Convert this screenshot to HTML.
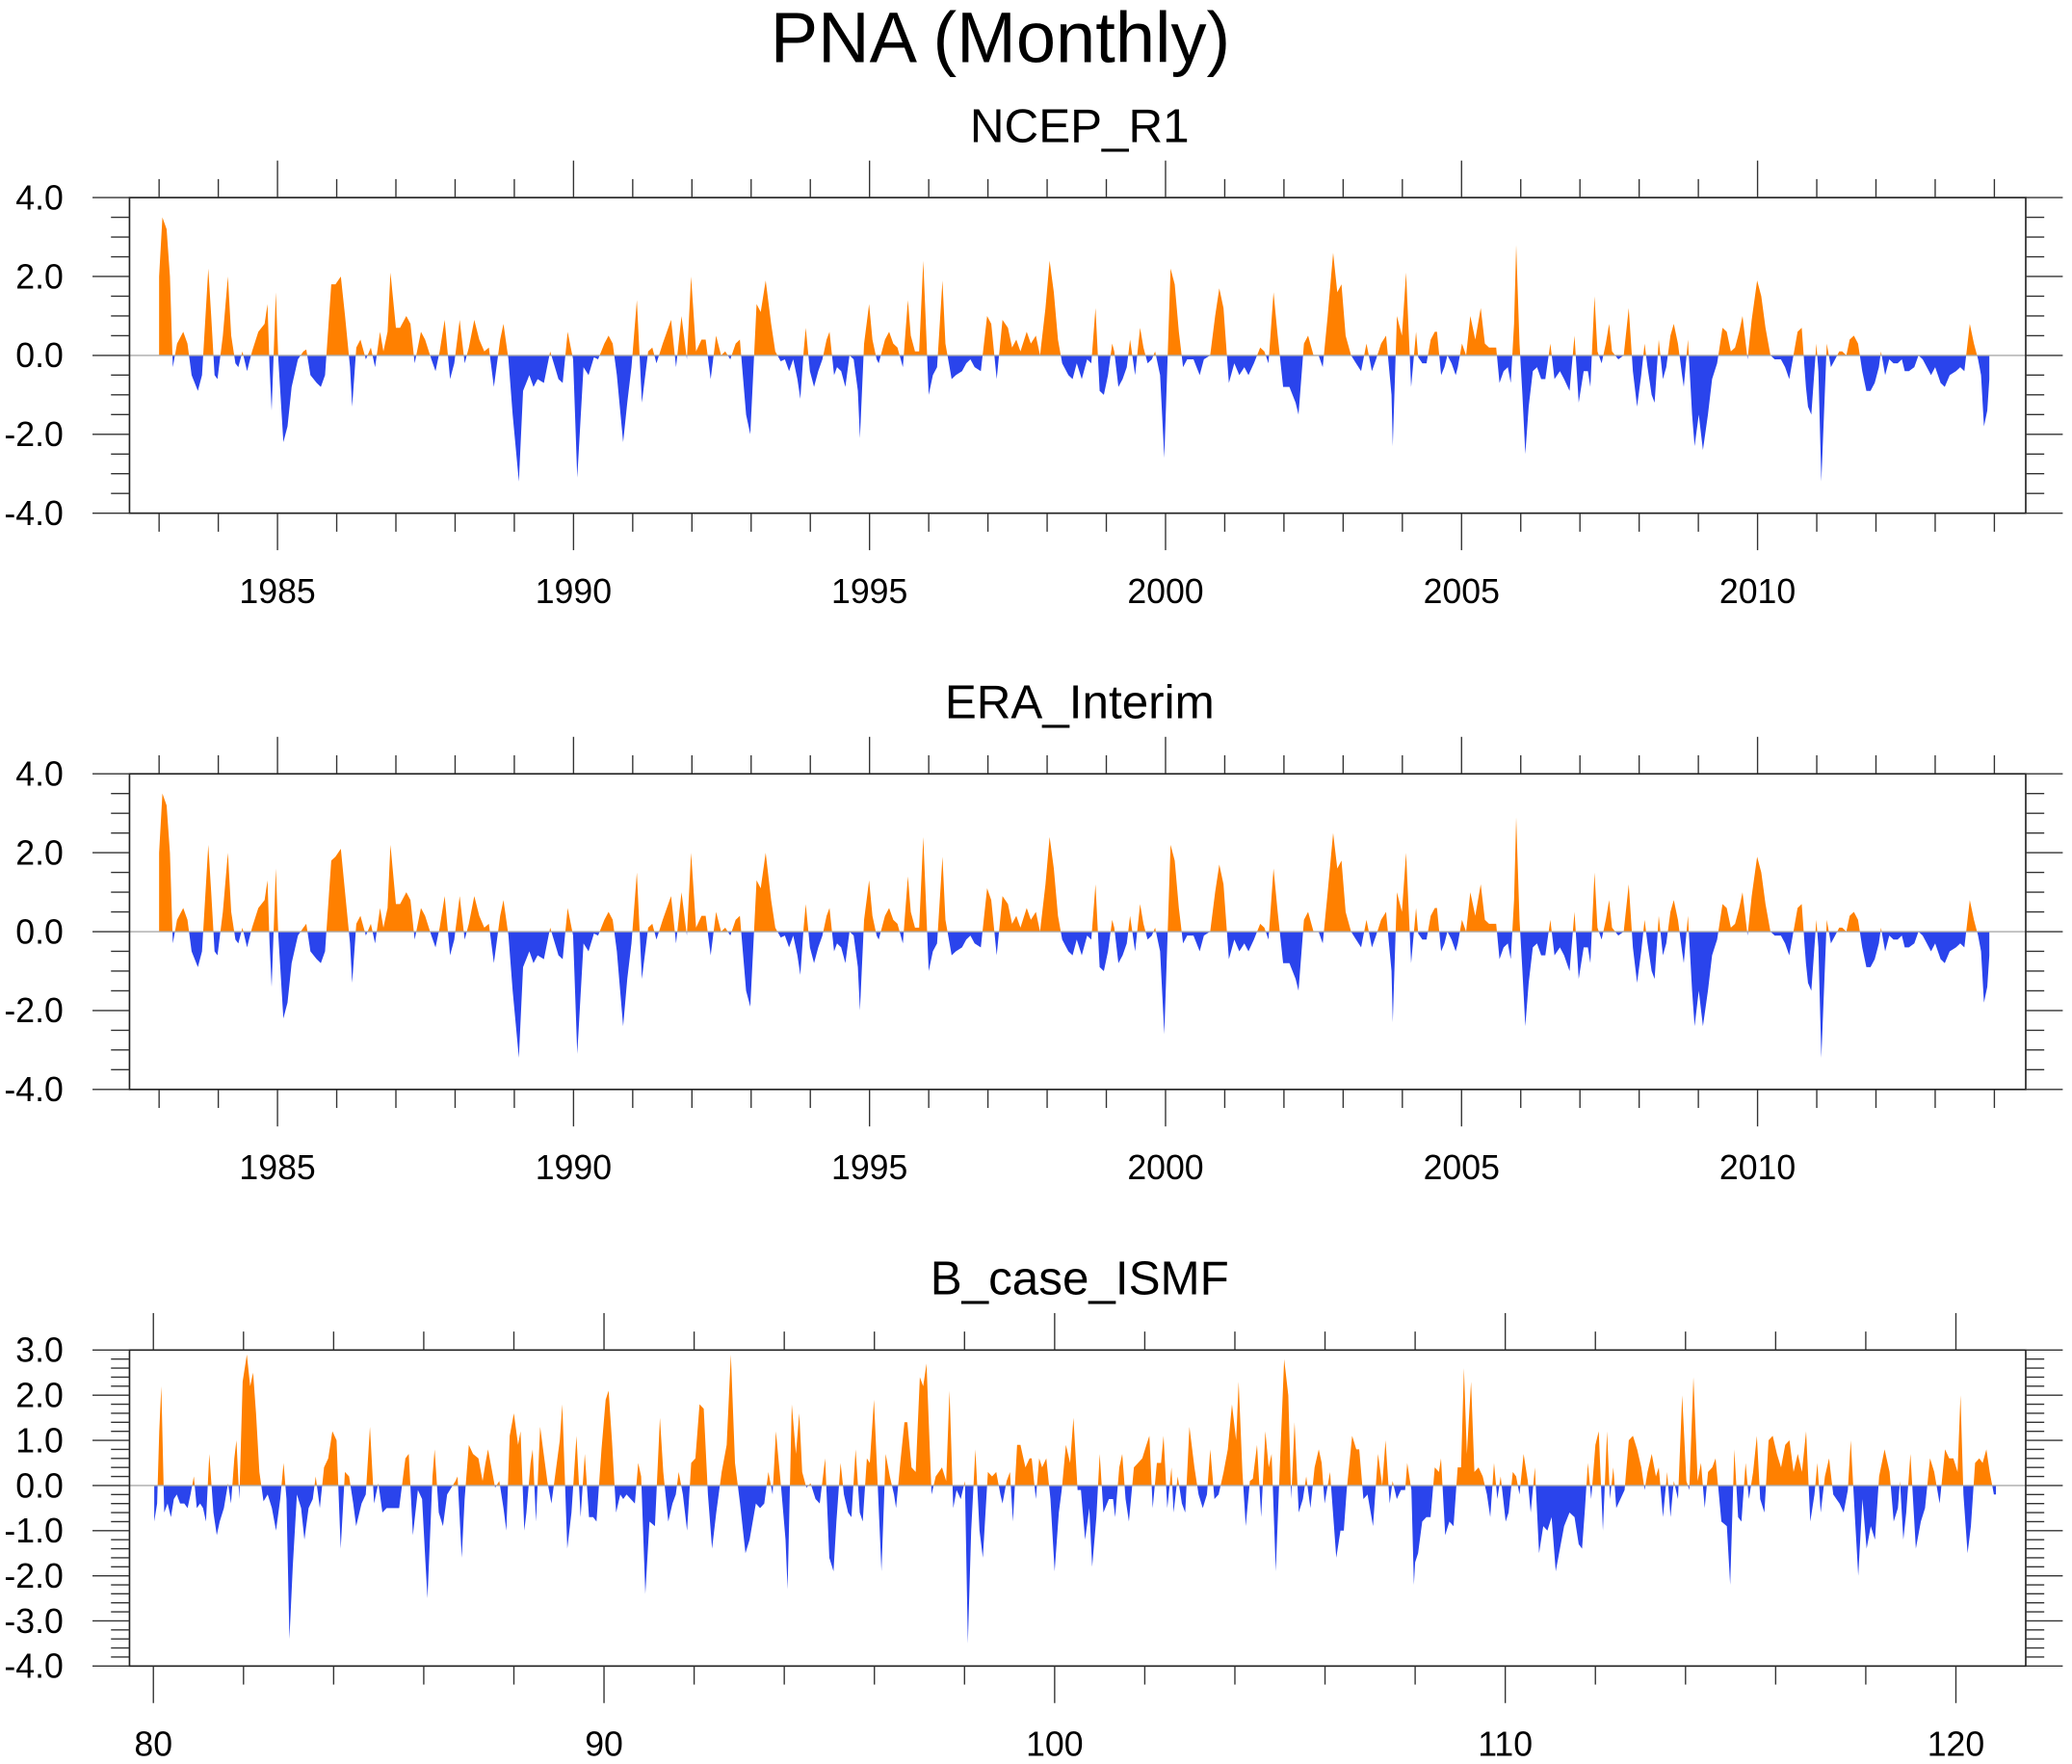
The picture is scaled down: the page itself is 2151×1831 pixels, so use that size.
<!DOCTYPE html>
<html><head><meta charset="utf-8"><title>PNA (Monthly)</title>
<style>html,body{margin:0;padding:0;background:#fff}svg{display:block}text{font-family:"Liberation Sans",Arial,sans-serif;fill:#000}</style>
</head><body>
<svg id="chart" width="2151" height="1831" viewBox="0 0 1568 1334.7" preserveAspectRatio="none" xmlns="http://www.w3.org/2000/svg">
<text x="757" y="47" font-size="54" text-anchor="middle">PNA (Monthly)</text>
</svg>
<script>
// ---- data (times are year offsets from each segment's base year) ----
const ncepBase = [1983, 1994, 2004];
const ncepT1 = [0,.056,.127,.183,.232,.303,.408,.479,.549,.655,.725,.831,.880,.937,.986,1.077,1.162,1.218,1.289,1.338,1.408,1.486,1.570,1.676,1.782,1.831,1.866,1.901,1.972,2.014,2.099,2.169,2.239,2.345,2.437,2.486,2.556,2.662,2.732,2.803,2.908,2.979,3.070,3.141,3.225,3.261,3.331,3.401,3.493,3.577,3.648,3.732,3.789,3.859,3.908,4.0,4.070,4.176,4.246,4.317,4.423,4.493,4.599,4.669,4.739,4.824,4.915,4.986,5.077,5.162,5.232,5.324,5.408,5.493,5.570,5.655,5.761,5.817,5.901,5.972,6.077,6.148,6.254,6.324,6.394,6.5,6.606,6.746,6.817,6.901,6.993,7.063,7.169,7.254,7.345,7.415,7.521,7.592,7.662,7.732,7.838,7.908,7.979,8.070,8.155,8.261,8.331,8.401,8.507,8.577,8.648,8.732,8.824,8.915,8.986,9.070,9.162,9.232,9.317,9.408,9.493,9.563,9.648,9.739,9.810,9.915,9.986,10.092,10.162,10.246,10.338,10.408];
const ncepT2 = [-.500,-.430,-.359,-.289,-.218,-.169,-.113,-.077,-.007,.063,.134,.204,.275,.324,.401,.451,.521,.592,.662,.732,.803,.838,.908,.993,1.049,1.120,1.155,1.261,1.331,1.401,1.472,1.563,1.648,1.697,1.768,1.838,1.908,2.0,2.070,2.141,2.232,2.282,2.387,2.458,2.563,2.634,2.704,2.775,2.880,2.986,3.056,3.148,3.246,3.338,3.408,3.479,3.549,3.655,3.725,3.810,3.880,3.972,4.042,4.113,4.183,4.254,4.359,4.430,4.5,4.585,4.676,4.746,4.817,4.887,4.958,5.028,5.099,5.134,5.204,5.275,5.345,5.401,5.486,5.570,5.627,5.697,5.768,5.824,5.908,5.979,6.085,6.155,6.225,6.296,6.366,6.472,6.577,6.648,6.754,6.838,6.908,6.979,7.070,7.162,7.246,7.331,7.401,7.493,7.599,7.669,7.739,7.824,7.894,7.986,8.092,8.197,8.246,8.338,8.408,8.5,8.585,8.655,8.739,8.831,8.901,8.972,9.042,9.134,9.218,9.303,9.394,9.486,9.556,9.641,9.725,9.817,9.838,9.908,9.993,10.063,10.148];
const ncepT3 = [.232,.268,.338,.408,.479,.549,.585,.655,.711,.761,.831,.901,.937,1.007,1.077,1.148,1.232,1.324,1.394,1.465,1.535,1.585,1.641,1.711,1.782,1.831,1.887,1.923,1.979,2.028,2.077,2.134,2.204,2.275,2.345,2.415,2.5,2.570,2.662,2.732,2.824,2.908,2.979,3.063,3.134,3.176,3.246,3.296,3.366,3.437,3.493,3.542,3.648,3.739,3.824,3.894,3.965,4.035,4.092,4.141,4.211,4.261,4.331,4.401,4.458,4.528,4.585,4.655,4.725,4.754,4.824,4.894,4.937,5.007,5.077,5.162,5.232,5.317,5.408,5.479,5.549,5.620,5.690,5.746,5.831,5.901,5.993,6.063,6.134,6.218,6.289,6.394,6.465,6.535,6.606,6.676,6.746,6.817,6.852,6.908,6.993,7.028,7.077,7.169,7.239,7.310,7.380,7.430,7.5,7.556,7.627,7.697,7.768,7.838,7.908,7.979,8.049,8.085,8.155,8.225,8.296,8.366,8.437,8.486,8.556,8.648,8.718,8.789,8.859,8.930,9.0,9.092,9.162,9.246,9.352,9.423,9.493,9.585,9.655,9.725,9.775,9.824,9.880,9.915];
const ncepSeg1 = [2.0,3.5,3.2,2.0,-0.3,0.3,0.6,0.3,-0.5,-0.9,-0.5,2.2,1.0,-0.5,-0.6,0.5,2.0,0.5,-0.2,-0.3,0.1,-0.4,0.1,0.6,0.8,1.3,-0.3,-1.4,1.6,-0.1,-2.2,-1.8,-0.8,-0.1,0.1,0.15,-0.5,-0.7,-0.8,-0.5,1.8,1.8,2.0,1.0,-0.3,-1.3,0.2,0.4,-0.1,0.2,-0.3,0.6,0.1,0.6,2.1,0.7,0.7,1.0,0.8,-0.2,0.6,0.4,-0.1,-0.4,0.1,0.9,-0.6,-0.2,0.9,-0.2,0.2,0.9,0.4,0.1,0.2,-0.8,0.4,0.8,-0.1,-1.5,-3.2,-0.9,-0.5,-0.8,-0.6,-0.7,0.1,-0.6,-0.7,0.6,-0.1,-3.1,-0.3,-0.5,-0.05,-0.1,0.3,0.5,0.3,-0.5,-2.2,-1.2,-0.3,1.4,-1.2,0.1,0.2,-0.2,0.3,0.6,0.9,-0.3,1.0,-0.1,2.0,0.1,0.4,0.4,-0.6,0.5,0.0,0.1,-0.1,0.3,0.4,-1.5,-2.0,1.3,1.1,1.9,0.8,0.1];
const ncepSeg2 = [-0.15,-0.1,-0.4,-0.1,-0.6,-1.1,0.1,0.7,-0.4,-0.8,-0.4,-0.1,0.4,0.6,-0.5,-0.3,-0.4,-0.8,0.0,-0.1,-0.9,-2.1,0.3,1.3,0.4,-0.1,-0.2,0.4,0.6,0.3,0.2,-0.3,1.4,0.5,0.1,0.1,2.4,-1.0,-0.5,-0.3,1.9,0.3,-0.6,-0.5,-0.4,-0.2,-0.1,-0.3,-0.4,1.0,0.8,-0.6,0.9,0.7,0.2,0.4,0.1,0.6,0.3,0.5,0.0,1.2,2.4,1.6,0.4,-0.2,-0.5,-0.6,-0.2,-0.6,-0.1,-0.2,1.2,-0.9,-1.0,-0.5,0.3,0.1,-0.8,-0.6,-0.3,0.4,-0.5,0.7,0.2,-0.2,-0.1,0.1,-0.5,-2.6,2.2,1.8,0.6,-0.3,-0.1,-0.1,-0.5,-0.1,0.0,1.0,1.7,1.2,-0.7,-0.2,-0.5,-0.3,-0.5,-0.2,0.2,0.1,-0.2,1.6,0.5,-0.8,-0.8,-1.2,-1.5,0.3,0.5,0.0,0.0,-0.3,1.0,2.6,1.6,1.8,0.5,0.0,-0.2,-0.4,0.3,-0.4,-0.1,0.3,0.5,-1.0,-2.3,1.0,0.5,2.1,-0.8];
const ncepSeg3 = [0.6,-0.05,-0.2,-0.2,0.4,0.6,0.6,-0.5,-0.3,0.0,-0.2,-0.5,-0.3,0.3,0.0,1.0,0.4,1.2,0.3,0.2,0.2,0.2,-0.7,-0.4,-0.3,-0.7,0.8,2.8,0.3,-1.0,-2.5,-1.3,-0.4,-0.3,-0.6,-0.6,0.3,-0.6,-0.4,-0.6,-0.9,0.5,-1.2,-0.4,-0.4,-0.8,1.5,0.1,-0.2,0.3,0.8,0.1,-0.1,0.0,1.2,-0.4,-1.3,-0.5,0.3,-0.3,-1.0,-1.2,0.4,-0.6,-0.3,0.5,0.8,0.3,-0.5,-0.8,0.4,-1.5,-2.3,-1.5,-2.4,-1.5,-0.6,-0.2,0.7,0.6,0.1,0.2,0.6,1.0,-0.1,0.9,1.9,1.5,0.7,0.0,-0.1,-0.1,-0.3,-0.6,0.0,0.6,0.7,-0.8,-1.3,-1.5,0.3,-0.4,-3.2,0.3,-0.3,-0.1,0.1,0.1,0.0,0.4,0.5,0.3,-0.4,-0.9,-0.9,-0.7,-0.3,0.1,-0.5,-0.1,-0.2,-0.2,-0.1,-0.4,-0.4,-0.3,0.0,-0.1,-0.3,-0.5,-0.3,-0.7,-0.8,-0.5,-0.4,-0.3,-0.4,0.8,0.3,-0.1,-0.5,-1.8,-1.4,-0.6];
const eraSeg1 = [2.0,3.5,3.2,2.0,-0.3,0.3,0.6,0.3,-0.5,-0.9,-0.5,2.2,1.0,-0.5,-0.6,0.5,2.0,0.5,-0.2,-0.3,0.1,-0.4,0.1,0.6,0.8,1.3,-0.3,-1.4,1.6,-0.1,-2.2,-1.8,-0.8,-0.1,0.1,0.2,-0.5,-0.7,-0.8,-0.5,1.8,1.9,2.1,1.0,-0.3,-1.3,0.2,0.4,-0.1,0.2,-0.3,0.6,0.1,0.6,2.2,0.7,0.7,1.0,0.8,-0.2,0.6,0.4,-0.1,-0.4,0.1,0.9,-0.6,-0.2,0.9,-0.2,0.2,0.9,0.4,0.1,0.2,-0.8,0.4,0.8,-0.1,-1.5,-3.2,-0.9,-0.5,-0.8,-0.6,-0.7,0.1,-0.6,-0.7,0.6,-0.1,-3.1,-0.3,-0.5,-0.05,-0.1,0.3,0.5,0.3,-0.5,-2.4,-1.2,-0.3,1.5,-1.2,0.1,0.2,-0.2,0.3,0.6,0.9,-0.3,1.0,-0.1,2.0,0.1,0.4,0.4,-0.6,0.5,0.0,0.1,-0.1,0.3,0.4,-1.5,-1.9,1.3,1.1,2.0,0.8,0.1];
const eraSeg2 = [-0.15,-0.1,-0.4,-0.1,-0.6,-1.1,0.1,0.7,-0.4,-0.8,-0.4,-0.1,0.4,0.6,-0.5,-0.3,-0.4,-0.8,0.0,-0.1,-0.9,-2.0,0.3,1.3,0.4,-0.1,-0.2,0.4,0.6,0.3,0.2,-0.3,1.4,0.5,0.1,0.1,2.4,-1.0,-0.5,-0.3,1.9,0.3,-0.6,-0.5,-0.4,-0.2,-0.1,-0.3,-0.4,1.1,0.8,-0.6,0.9,0.7,0.2,0.4,0.1,0.6,0.3,0.5,0.0,1.2,2.4,1.6,0.4,-0.2,-0.5,-0.6,-0.2,-0.6,-0.1,-0.2,1.2,-0.9,-1.0,-0.5,0.3,0.1,-0.8,-0.6,-0.3,0.4,-0.5,0.7,0.2,-0.2,-0.1,0.1,-0.5,-2.6,2.2,1.8,0.6,-0.3,-0.1,-0.1,-0.5,-0.1,0.0,1.0,1.7,1.2,-0.7,-0.2,-0.5,-0.3,-0.5,-0.2,0.2,0.1,-0.2,1.6,0.5,-0.8,-0.8,-1.2,-1.5,0.3,0.5,0.0,0.0,-0.3,1.0,2.5,1.6,1.8,0.5,0.0,-0.2,-0.4,0.3,-0.4,-0.1,0.3,0.5,-1.0,-2.3,1.0,0.5,2.0,-0.8];
const eraSeg3 = [0.6,-0.05,-0.2,-0.2,0.4,0.6,0.6,-0.5,-0.3,0.0,-0.2,-0.5,-0.3,0.3,0.0,1.0,0.4,1.2,0.3,0.2,0.2,0.2,-0.7,-0.4,-0.3,-0.7,0.8,2.9,0.3,-1.0,-2.4,-1.3,-0.4,-0.3,-0.6,-0.6,0.3,-0.6,-0.4,-0.6,-1.0,0.5,-1.2,-0.4,-0.4,-0.8,1.5,0.1,-0.2,0.3,0.8,0.1,-0.1,0.0,1.2,-0.4,-1.3,-0.5,0.3,-0.3,-1.0,-1.2,0.4,-0.6,-0.3,0.5,0.8,0.3,-0.5,-0.8,0.4,-1.5,-2.4,-1.5,-2.4,-1.5,-0.6,-0.2,0.7,0.6,0.1,0.2,0.6,1.0,-0.1,0.9,1.9,1.5,0.7,0.0,-0.1,-0.1,-0.3,-0.6,0.0,0.6,0.7,-0.8,-1.3,-1.5,0.3,-0.4,-3.2,0.3,-0.3,-0.1,0.1,0.1,0.0,0.4,0.5,0.3,-0.4,-0.9,-0.9,-0.7,-0.3,0.1,-0.5,-0.1,-0.2,-0.2,-0.1,-0.4,-0.4,-0.3,0.0,-0.1,-0.3,-0.5,-0.3,-0.7,-0.8,-0.5,-0.4,-0.3,-0.4,0.8,0.3,-0.1,-0.5,-1.8,-1.4,-0.6];
const bcaseBase = [80, 94, 108];
const bcaseT1 = [.019,.083,.130,.176,.241,.315,.389,.454,.519,.593,.685,.759,.824,.898,.963,1.037,1.102,1.167,1.241,1.333,1.407,1.472,1.565,1.657,1.722,1.796,1.843,1.907,1.981,2.074,2.148,2.213,2.278,2.352,2.444,2.537,2.630,2.722,2.815,2.889,2.954,3.019,3.093,3.185,3.278,3.352,3.444,3.537,3.602,3.694,3.787,3.880,3.972,4.065,4.157,4.250,4.343,4.435,4.5,4.620,4.713,4.806,4.898,4.991,5.083,5.176,5.269,5.361,5.454,5.593,5.667,5.759,5.870,5.963,6.037,6.083,6.194,6.241,6.333,6.426,6.519,6.611,6.704,6.750,6.843,6.907,7.0,7.093,7.213,7.306,7.370,7.426,7.519,7.583,7.676,7.769,7.833,7.907,8.0,8.093,8.148,8.231,8.278,8.370,8.417,8.491,8.583,8.648,8.741,8.833,8.926,9.019,9.074,9.185,9.278,9.389,9.481,9.574,9.667,9.759,9.833,9.944,10.037,10.102,10.176,10.269,10.361,10.426,10.5,10.593,10.685,10.759,10.824,10.917,11.009,11.130,11.241,11.315,11.426,11.519,11.593,11.657,11.750,11.843,11.935,12.028,12.120,12.213,12.306,12.398,12.491,12.611,12.722,12.815,12.907,13.019,13.139,13.231,13.370,13.463,13.556,13.648,13.741,13.815];
const bcaseT2 = [-.065,.028,.074,.167,.259,.333,.398,.491,.583,.694,.787,.907,1.0,1.093,1.157,1.25,1.324,1.417,1.491,1.583,1.676,1.741,1.833,1.898,1.991,2.083,2.157,2.25,2.343,2.435,2.481,2.574,2.667,2.731,2.824,2.917,3.009,3.083,3.157,3.222,3.269,3.361,3.5,3.593,3.667,3.75,3.824,3.917,4.009,4.074,4.148,4.241,4.333,4.407,4.519,4.611,4.704,4.796,4.843,4.935,5.009,5.074,5.167,5.241,5.352,5.444,5.491,5.583,5.657,5.722,5.815,5.907,6.0,6.093,6.157,6.25,6.343,6.417,6.509,6.583,6.676,6.769,6.833,6.926,7.0,7.083,7.204,7.296,7.343,7.435,7.5,7.574,7.648,7.759,7.852,7.944,8.037,8.102,8.176,8.269,8.361,8.417,8.5,8.593,8.639,8.731,8.824,8.898,8.991,9.102,9.194,9.287,9.380,9.454,9.546,9.639,9.750,9.843,9.935,10.028,10.083,10.167,10.241,10.333,10.398,10.491,10.583,10.676,10.75,10.815,10.907,11.0,11.093,11.185,11.25,11.324,11.417,11.509,11.583,11.676,11.769,11.861,11.926,11.991,12.111,12.25,12.343,12.417,12.481,12.602,12.694,12.759,12.852,12.944,13.065,13.176,13.269,13.343,13.435,13.5,13.593,13.685,13.778,13.824,13.917,13.972];
const bcaseT3 = [0,.065,.157,.25,.343,.435,.528,.574,.667,.759,.852,.944,1.019,1.083,1.148,1.241,1.315,1.407,1.5,1.593,1.667,1.75,1.824,1.898,2.009,2.074,2.167,2.241,2.315,2.407,2.5,2.565,2.657,2.75,2.843,2.935,3.028,3.120,3.213,3.306,3.426,3.537,3.630,3.704,3.769,3.833,3.907,4.0,4.074,4.167,4.259,4.324,4.398,4.463,4.556,4.648,4.741,4.833,4.926,5.019,5.093,5.157,5.25,5.343,5.407,5.5,5.593,5.667,5.741,5.833,5.926,6.019,6.083,6.176,6.269,6.343,6.426,6.5,6.593,6.667,6.796,6.917,6.991,7.083,7.167,7.241,7.333,7.407,7.5,7.583,7.657,7.75,7.843,7.935,8.028,8.120,8.213,8.306,8.398,8.491,8.583,8.676,8.769,8.861,8.926,9.0,9.093,9.185,9.278,9.417,9.509,9.602,9.667,9.759,9.833,9.926,10.019,10.111,10.204,10.296,10.417,10.528,10.620,10.713,10.759,10.833,10.898,10.991,11.111,11.222,11.315,11.426,11.519,11.639,11.759,11.852,11.944,12.037,12.102,12.167,12.259,12.333,12.426,12.519,12.593,12.676,12.750,12.843,12.889];
const bcaseSeg1 = [-0.8,-0.4,1.2,2.2,-0.6,-0.4,-0.7,-0.3,-0.2,-0.4,-0.4,-0.5,-0.2,0.2,-0.5,-0.4,-0.5,-0.8,0.7,-0.6,-1.1,-0.8,-0.5,0.05,-0.4,0.6,1.0,-0.3,2.3,2.9,2.2,2.5,1.6,0.3,-0.35,-0.2,-0.5,-1.0,-0.3,0.5,-0.3,-3.4,-1.8,-0.2,-0.5,-1.2,-0.5,-0.3,0.2,-0.5,0.4,0.6,1.2,1.0,-1.4,0.3,0.2,-0.4,-0.9,-0.4,-0.2,1.3,-0.4,0.05,-0.6,-0.5,-0.5,-0.5,-0.5,0.6,0.7,-1.1,-0.1,-0.3,-1.7,-2.5,0.2,0.8,-0.6,-0.9,-0.2,-0.05,0.1,0.2,-1.6,-0.3,0.9,0.7,0.6,0.1,0.5,0.8,0.3,-0.05,0.1,-0.5,-1.0,1.1,1.6,0.9,1.2,-1.0,-0.6,0.5,0.8,-0.8,1.3,0.8,0.1,-0.4,0.3,1.0,1.8,-1.4,-0.6,1.1,-0.7,0.7,-0.7,-0.7,-0.8,0.8,1.9,2.1,1.0,-0.6,-0.2,-0.3,-0.2,-0.3,-0.4,0.5,0.2,-2.4,-0.8,-0.9,1.5,0.3,-0.8,-0.4,-0.2,0.3,-0.2,-1.0,0.5,0.6,1.8,1.7,-0.2,-1.4,-0.6,0.3,0.9,2.9,0.5,-0.4,-1.5,-1.2,-0.4,-0.5,-0.4,0.3,-0.2,1.2];
const bcaseSeg2 = [-0.1,-1.2,-2.3,1.8,0.7,1.6,0.3,-0.05,0.05,-0.3,-0.4,0.6,-1.6,-1.9,-0.8,0.5,-0.2,-0.6,-0.7,0.8,-0.6,-0.8,0.6,0.5,1.9,-0.2,-1.9,0.7,0.2,-0.2,-0.5,0.5,1.4,1.4,0.4,0.3,2.4,2.2,2.7,1.0,-0.2,0.2,0.4,0.1,2.1,-0.5,-0.1,-0.3,0.1,-3.5,-1.0,0.8,-1.0,-1.6,0.3,0.2,0.3,-0.2,-0.4,0.1,0.3,-0.8,0.9,0.9,0.4,0.6,0.6,-0.3,0.6,0.4,0.6,-0.3,-1.9,-0.6,-0.1,0.9,0.5,1.5,-0.1,-0.1,-1.2,-0.5,-1.8,-0.7,0.7,-0.6,-0.3,-0.3,-0.7,0.4,0.7,-0.3,-0.8,0.4,0.5,0.6,0.9,1.1,-0.5,0.5,0.5,1.1,-0.5,0.4,-0.6,0.2,-0.4,-0.6,1.3,0.4,-0.2,-0.5,-0.2,0.8,-0.3,-0.2,0.3,0.8,1.8,1.0,2.3,0.3,-0.9,0.1,0.15,0.9,-0.7,1.2,0.4,0.7,-1.9,0.5,2.8,2.0,-0.3,1.4,-0.6,-0.3,0.2,-0.5,0.4,0.8,0.5,-0.4,0.3,-1.6,-1.0,-1.0,-0.1,1.1,0.8,0.8,-0.3,-0.2,-0.9,0.7,0.0,1.0,-0.4,0.1,-0.3,-0.1,-0.1,0.5,-0.1,-2.2];
const bcaseSeg3 = [-1.7,-1.5,-0.8,-0.7,-0.7,0.4,0.3,0.6,-1.1,-0.8,-0.9,0.4,0.4,2.6,0.7,2.3,0.3,0.4,0.2,-0.2,-0.7,0.5,-0.3,0.2,-0.8,-0.6,0.3,0.2,-0.2,0.7,0.1,-0.6,0.4,-1.5,-0.9,-1.0,-0.7,-1.9,-1.4,-0.9,-0.6,-0.7,-1.3,-1.4,-0.5,0.5,-0.3,0.9,1.2,-1.0,1.2,-0.3,0.4,-0.5,-0.3,-0.1,1.0,1.1,0.8,0.4,-0.1,0.3,0.7,0.2,0.4,-0.7,0.3,-0.7,0.1,-0.3,2.0,0.1,-0.1,2.4,0.1,0.5,-0.5,0.3,0.4,0.6,-0.8,-0.9,-2.2,0.8,-0.7,-0.8,0.5,-0.3,0.3,1.1,-0.3,-0.6,1.0,1.1,0.7,0.4,0.9,1.0,0.3,0.7,0.3,1.2,-0.8,-0.2,0.5,-0.6,0.2,0.6,-0.2,-0.4,-0.6,-0.1,1.0,-0.7,-2.0,-0.3,-1.4,-0.9,-1.2,0.2,0.8,0.3,-0.8,-0.5,0.1,-1.2,-0.6,0.7,-1.4,-0.8,-0.5,0.6,0.3,-0.4,0.8,0.6,0.6,0.3,2.0,-0.2,-1.5,-0.9,0.5,0.6,0.5,0.8,0.3,-0.2,-0.2];
const yearTickLabels = ["1985","1990","1995","2000","2005","2010"];
const modelTickLabels = ["80","90","100","110","120"];
const ncepYLabels = ["4.0","2.0","0.0","-2.0","-4.0"];
const bcaseYLabels = ["3.0","2.0","1.0","0.0","-1.0","-2.0","-3.0","-4.0"];

// ---- drawing ----
const NS = "http://www.w3.org/2000/svg";
const svg = document.getElementById('chart');
const FL = 98, FR = 1533;
function mk(tag, attrs, parent) {
  const e = document.createElementNS(NS, tag);
  for (const k in attrs) e.setAttribute(k, attrs[k]);
  (parent || svg).appendChild(e);
  return e;
}
function seriesPoints(bases, times, segs) {
  const pts = [];
  segs.forEach((vals, s) => {
    const n = Math.min(vals.length, times[s].length);
    for (let i = 0; i < n; i++) pts.push([bases[s] + times[s][i], vals[i]]);
  });
  pts.sort((a, b) => a[0] - b[0]);
  return pts;
}
function panel(cfg) {
  const g = mk('g', {});
  
  
  const xs = t => FL + (t - cfg.xmin) / (cfg.xmax - cfg.xmin) * (FR - FL);
  const ys = v => cfg.top + (cfg.ymax - v) / (cfg.ymax - cfg.ymin) * (cfg.bot - cfg.top);
  const title = mk('text', {x: 817, y: cfg.top - 42, 'font-size': 36, 'text-anchor': 'middle'}, g);
  title.textContent = cfg.title;
  
  
  const pts = seriesPoints(cfg.bases, cfg.times, cfg.segs);
  const y0 = ys(0);
  let d = 'M' + xs(pts[0][0]).toFixed(2) + ',' + y0.toFixed(2);
  pts.forEach(p => { d += 'L' + xs(p[0]).toFixed(2) + ',' + ys(p[1]).toFixed(2); });
  d += 'L' + xs(pts[pts.length - 1][0]).toFixed(2) + ',' + y0.toFixed(2) + 'Z';
  const id = cfg.name;
  const defs = mk('defs', {}, g);
  const cu = mk('clipPath', {id: id + '-up'}, defs);
  mk('rect', {x: FL, y: cfg.top, width: FR - FL, height: y0 - cfg.top}, cu);
  const cd = mk('clipPath', {id: id + '-dn'}, defs);
  mk('rect', {x: FL, y: y0, width: FR - FL, height: cfg.bot - y0}, cd);
  const pos = mk('path', {d: d, fill: '#ff8000', 'clip-path': 'url(#' + id + '-up)'}, g);
  
  
  const neg = mk('path', {d: d, fill: '#2a44ec', 'clip-path': 'url(#' + id + '-dn)'}, g);
  
  
  const zl = mk('line', {x1: FL, x2: FR, y1: y0, y2: y0, stroke: '#aaa', 'stroke-width': 1}, g);
  
  
  const fr = mk('rect', {x: FL, y: cfg.top, width: FR - FL, height: cfg.bot - cfg.top, fill: 'none', stroke: '#222', 'stroke-width': 1.2}, g);
  
  
  for (let t = cfg.xTickStart; t <= cfg.xmax; t += cfg.xMinorStep) {
    const r = (t - cfg.xMajorStart) / cfg.xMajorStep;
    const major = Math.abs(r - Math.round(r)) < 1e-6;
    const L = major ? 28 : 14;
    const x = xs(t);
    mk('line', {x1: x, x2: x, y1: cfg.bot, y2: cfg.bot + L, stroke: '#333', 'stroke-width': 1}, g);
    mk('line', {x1: x, x2: x, y1: cfg.top, y2: cfg.top - L, stroke: '#333', 'stroke-width': 1}, g);
  }
  cfg.xLabels.forEach((lab, i) => {
    const t = cfg.xMajorStart + i * cfg.xMajorStep;
    const tx = mk('text', {x: xs(t), y: cfg.bot + 68, 'font-size': 26, 'text-anchor': 'middle'}, g);
    tx.textContent = lab;
    
    
  });
  for (let v = cfg.ymin; v <= cfg.ymax + 1e-6; v += cfg.yMinorStep) {
    const r = v / cfg.yMajorStep;
    const major = Math.abs(r - Math.round(r)) < 1e-6;
    const L = major ? 28 : 14;
    const y = ys(v);
    mk('line', {x1: FL - L, x2: FL, y1: y, y2: y, stroke: '#333', 'stroke-width': 1}, g);
    mk('line', {x1: FR, x2: FR + L, y1: y, y2: y, stroke: '#333', 'stroke-width': 1}, g);
  }
  cfg.yLabels.forEach((lab, i) => {
    const v = cfg.ymax - i * cfg.yMajorStep;
    const ty = mk('text', {x: 48, y: ys(v) + 9, 'font-size': 26, 'text-anchor': 'end'}, g);
    ty.textContent = lab;
    
    
  });
}
panel({name: 'ncep-r1-panel', title: 'NCEP_R1', top: 149.5, bot: 388.3, ymin: -4, ymax: 4, xmin: 1982.5, xmax: 2014.53,
  bases: ncepBase, times: [ncepT1, ncepT2, ncepT3], segs: [ncepSeg1, ncepSeg2, ncepSeg3],
  xTickStart: 1983, xMinorStep: 1, xMajorStart: 1985, xMajorStep: 5, xLabels: yearTickLabels,
  yMinorStep: 0.5, yMajorStep: 2, yLabels: ncepYLabels});
panel({name: 'era-interim-panel', title: 'ERA_Interim', top: 585.5, bot: 824.3, ymin: -4, ymax: 4, xmin: 1982.5, xmax: 2014.53,
  bases: ncepBase, times: [ncepT1, ncepT2, ncepT3], segs: [eraSeg1, eraSeg2, eraSeg3],
  xTickStart: 1983, xMinorStep: 1, xMajorStart: 1985, xMajorStep: 5, xLabels: yearTickLabels,
  yMinorStep: 0.5, yMajorStep: 2, yLabels: ncepYLabels});
panel({name: 'b-case-ismf-panel', title: 'B_case_ISMF', top: 1021.5, bot: 1260.6, ymin: -4, ymax: 3, xmin: 79.47, xmax: 121.55,
  bases: bcaseBase, times: [bcaseT1, bcaseT2, bcaseT3], segs: [bcaseSeg1, bcaseSeg2, bcaseSeg3],
  xTickStart: 80, xMinorStep: 2, xMajorStart: 80, xMajorStep: 10, xLabels: modelTickLabels,
  yMinorStep: 0.2, yMajorStep: 1, yLabels: bcaseYLabels});
</script>
</body></html>
